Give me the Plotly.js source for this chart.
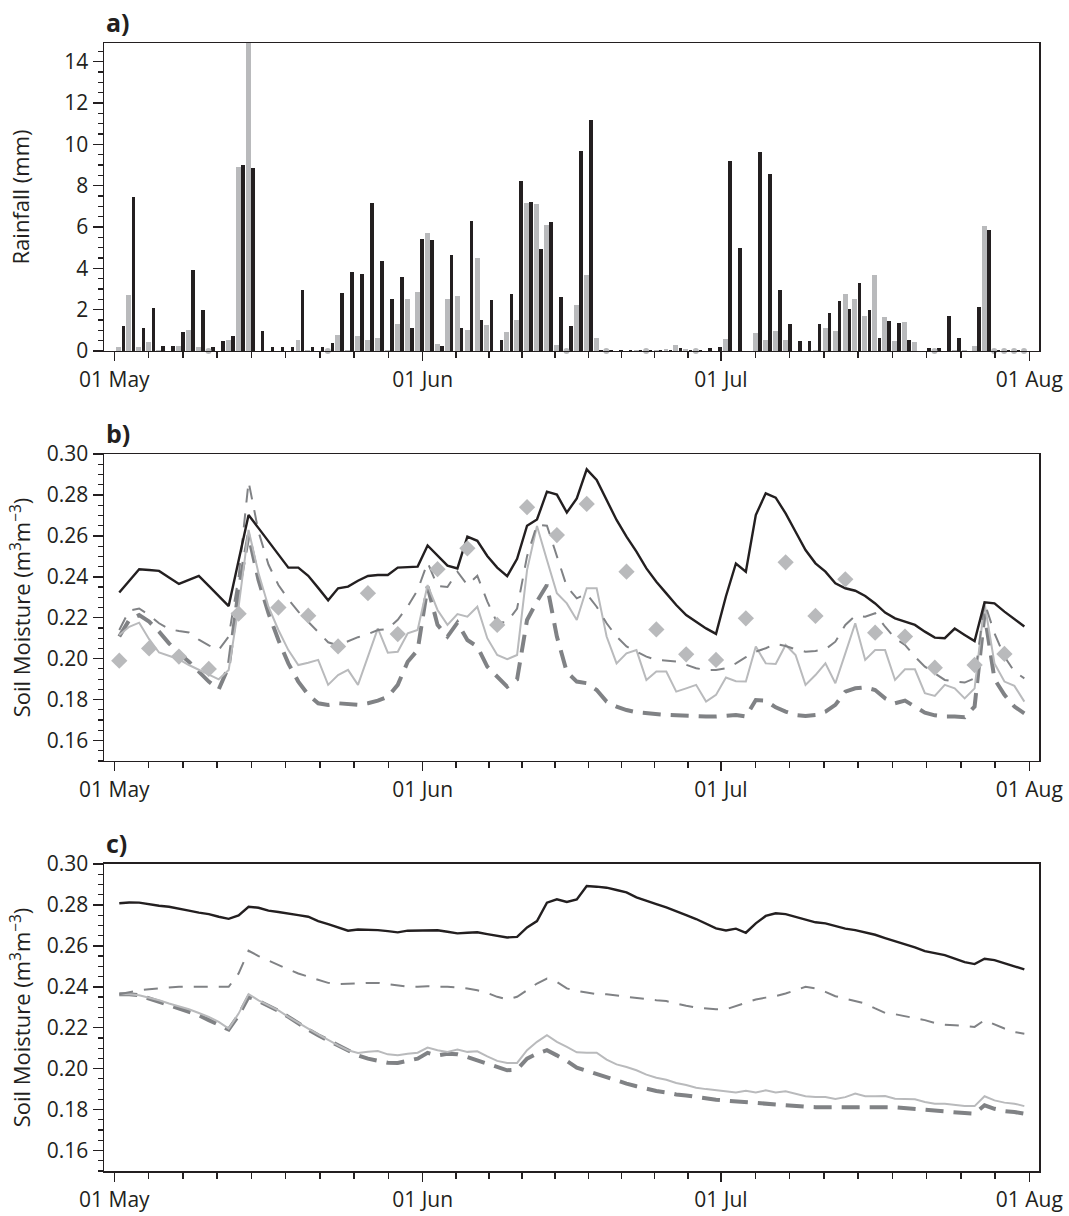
<!DOCTYPE html>
<html>
<head>
<meta charset="utf-8">
<script src="https://cdn.plot.ly/plotly-3.0.1.min.js"></script>
<style>
  html, body { margin: 0; padding: 0; background: #ffffff; }
  #chart { width: 1069px; height: 1216px; }
</style>
</head>
<body>
<div id="chart"></div>
<script>
// ---------------- DATA ----------------
const startYear = 2011;           // daily series start on 01 May
const nDays = 92;                 // 01 May ... 31 Jul

const monthTickDates  = ['2011-05-01', '2011-06-01', '2011-07-01', '2011-08-01'];
const monthTickLabels = ['01 May', '01 Jun', '01 Jul', '01 Aug'];

// a) daily rainfall (mm)
const rainGray = [0.2,2.7,0.2,0.45,0.05,0,0.25,1.0,0.2,0,
  0,0.55,8.9,15,0,0,0,0,0.55,0.05,
  0,0,0.76,0.05,0.71,0.55,0.65,0.05,1.3,2.49,
  2.85,5.73,0.36,2.49,2.66,1.0,4.48,1.25,0,0.92,
  1.52,7.15,7.13,6.1,0.28,0,2.22,3.67,0.63,0,
  0,0,0.05,0,0.05,0.08,0.31,0.1,0,0,
  0,0.57,0,0,0.89,0.52,0.96,0.52,0,0,
  0.05,1.1,0.97,2.75,2.5,1.68,3.67,1.62,0.49,1.39,
  0.42,0,0,0,0.05,0.05,0.23,6.05,0,0,
  0,0];
const rainBlack = [1.2,7.45,1.1,2.1,0.25,0.25,0.9,3.9,2.0,0.2,
  0.5,0.7,9.0,8.85,0.95,0.2,0.2,0.2,2.95,0.2,
  0.2,0.4,2.8,3.8,3.72,7.17,4.34,2.51,3.58,1.09,
  5.44,5.37,0.25,4.65,1.09,6.3,1.52,2.46,0.52,2.74,
  8.24,7.2,4.92,6.23,2.6,1.2,9.66,11.18,0.05,0.05,
  0.05,0.05,0.05,0.05,0.05,0.05,0.12,0.05,0.05,0.12,
  0.2,9.18,5.0,0,9.63,8.56,2.95,1.3,0.5,0.5,
  1.28,1.84,2.4,2.02,3.29,1.99,0.63,1.44,1.34,0.52,
  0,0.15,0.15,1.7,0.65,0,2.14,5.86,0.05,0.05,
  0.05,0];
const grayDotDays = [9,21,45,49,53,58,82,88,89,90,91];   // day index (0 = 01 May)

// b) soil moisture (m3 m-3)
const smB_black = [0.2323,0.238,0.2437,0.2433,0.2429,0.2397,0.2365,0.2385,0.2404,0.2356,
  0.2307,0.2257,0.248,0.2702,0.2638,0.2574,0.251,0.2445,0.2445,0.2405,
  0.2346,0.2285,0.2344,0.2352,0.2381,0.2404,0.2409,0.2409,0.2445,0.2446,
  0.245,0.2553,0.2502,0.2455,0.2441,0.2596,0.2576,0.2502,0.2445,0.2403,
  0.2488,0.265,0.268,0.2816,0.2802,0.2714,0.2783,0.2925,0.2873,0.2775,
  0.2678,0.2596,0.2523,0.2441,0.2376,0.2319,0.2262,0.2213,0.2181,0.2148,
  0.2121,0.2305,0.2465,0.2425,0.2702,0.2808,0.2787,0.271,0.262,0.2531,
  0.2466,0.2425,0.2368,0.2344,0.2332,0.2306,0.227,0.2225,0.2197,0.2181,
  0.2165,0.2132,0.2103,0.21,0.2147,0.2116,0.2086,0.2275,0.227,0.223,
  0.2192,0.2157];
const smB_dash = [0.214,0.2235,0.2245,0.2213,0.2173,0.2145,0.2135,0.2128,0.2093,0.2065,
  0.2043,0.2108,0.24,0.2865,0.262,0.246,0.236,0.229,0.223,0.218,
  0.213,0.208,0.2065,0.2085,0.2105,0.212,0.214,0.2145,0.219,0.2255,
  0.2335,0.247,0.2355,0.235,0.2425,0.236,0.2405,0.228,0.2175,0.218,
  0.2245,0.25,0.2655,0.265,0.25,0.2352,0.2295,0.2317,0.2254,0.2173,
  0.2108,0.206,0.2035,0.201,0.1994,0.1989,0.1986,0.197,0.1953,0.1945,
  0.1945,0.1953,0.1977,0.2007,0.2034,0.2051,0.2072,0.2062,0.2046,0.2034,
  0.2038,0.2046,0.2083,0.2165,0.2209,0.2205,0.2222,0.2156,0.21,0.2067,
  0.201,0.1961,0.1929,0.1896,0.1888,0.1883,0.1904,0.2274,0.2124,0.201,
  0.1937,0.1904];
const smB_light = [0.2116,0.2156,0.2176,0.2095,0.203,0.2013,0.1997,0.1969,0.1945,0.192,
  0.1899,0.1945,0.2254,0.2629,0.2417,0.2254,0.214,0.2042,0.1969,0.198,
  0.1994,0.1872,0.192,0.1945,0.1872,0.201,0.2148,0.2029,0.2034,0.2124,
  0.214,0.236,0.2238,0.2165,0.2218,0.2205,0.2254,0.21,0.2018,0.1997,
  0.2018,0.2433,0.2648,0.2482,0.232,0.227,0.2189,0.2344,0.2344,0.2108,
  0.1977,0.2026,0.2042,0.1896,0.1937,0.1937,0.1839,0.1855,0.1872,0.179,
  0.1823,0.1908,0.189,0.1888,0.2059,0.1977,0.1974,0.2067,0.2018,0.1872,
  0.192,0.1977,0.188,0.2026,0.2173,0.1994,0.2042,0.2042,0.1896,0.1948,
  0.1948,0.1831,0.1818,0.1872,0.1855,0.1806,0.1855,0.2271,0.1977,0.1888,
  0.1867,0.179];
const smB_thick = [0.2108,0.2189,0.2213,0.2181,0.2132,0.2075,0.2026,0.1985,0.1937,0.1888,
  0.185,0.1961,0.2336,0.2604,0.2384,0.2222,0.2091,0.1977,0.1888,0.1823,
  0.1782,0.1774,0.1782,0.1779,0.1774,0.1782,0.1795,0.1814,0.1872,0.1985,
  0.2042,0.2352,0.2165,0.2108,0.2176,0.2091,0.2059,0.1961,0.1912,0.1863,
  0.1899,0.2189,0.228,0.236,0.2108,0.1935,0.1888,0.188,0.1847,0.179,
  0.1766,0.1749,0.1738,0.1733,0.1728,0.1725,0.1723,0.172,0.1717,0.1717,
  0.1717,0.1722,0.1725,0.1717,0.1798,0.1795,0.1762,0.1741,0.1725,0.172,
  0.1725,0.1741,0.1774,0.1839,0.1855,0.186,0.1847,0.1806,0.1782,0.1795,
  0.1766,0.1736,0.1723,0.1717,0.1717,0.1714,0.1766,0.222,0.19,0.1823,
  0.1766,0.1733];
const obsDays = [0,3,6,9,12,16,19,22,25,28,32,35,38,41,44,47,51,54,57,60,63,67,70,73,76,79,82,86,89];
const obsVals = [0.199,0.205,0.201,0.195,0.222,0.225,0.221,0.206,0.232,0.212,
  0.2437,0.2539,0.2165,0.274,0.2604,0.2756,0.2425,0.2143,0.2021,0.1994,
  0.2197,0.2471,0.2209,0.2388,0.2127,0.2108,0.1956,0.1969,0.2023];

// c) soil moisture (m3 m-3)
const smC_black = [0.2808,0.2812,0.2811,0.2803,0.2796,0.2791,0.2783,0.2772,0.2762,0.2755,
  0.2742,0.2732,0.2749,0.2791,0.2786,0.2772,0.2765,0.2759,0.275,0.2742,
  0.2721,0.2706,0.269,0.2674,0.268,0.2679,0.2677,0.2672,0.2666,0.2674,
  0.2674,0.2676,0.2676,0.2669,0.2661,0.2664,0.2666,0.2657,0.2649,0.2641,
  0.2644,0.269,0.2721,0.2811,0.2827,0.2814,0.2827,0.2892,0.2889,0.2884,
  0.2873,0.2861,0.2837,0.2819,0.2804,0.2788,0.2767,0.275,0.2731,0.2707,
  0.2685,0.2675,0.2684,0.2664,0.271,0.2746,0.2759,0.2755,0.2742,0.2731,
  0.2715,0.271,0.2697,0.2684,0.2677,0.2667,0.2654,0.2638,0.2623,0.2607,
  0.2592,0.2574,0.2566,0.2555,0.2538,0.252,0.2511,0.2537,0.253,0.2514,
  0.2498,0.2485];
const smC_dash = [0.2364,0.2375,0.2383,0.2388,0.2393,0.2396,0.24,0.24,0.24,0.24,
  0.24,0.24,0.2465,0.2576,0.255,0.2527,0.2506,0.2485,0.2465,0.2449,
  0.2432,0.2419,0.2413,0.2413,0.2416,0.2419,0.2419,0.2413,0.2405,0.24,
  0.24,0.2403,0.24,0.24,0.2396,0.2392,0.2383,0.237,0.2351,0.2338,
  0.2351,0.2383,0.2416,0.244,0.2424,0.2392,0.238,0.2372,0.2364,0.2363,
  0.2357,0.2351,0.2343,0.2338,0.2334,0.233,0.2318,0.2307,0.2299,0.2294,
  0.229,0.229,0.2305,0.2321,0.2338,0.2347,0.2354,0.2367,0.2383,0.24,
  0.2392,0.2375,0.2354,0.2343,0.2331,0.2318,0.2294,0.2272,0.2266,0.2256,
  0.2245,0.2237,0.2223,0.2215,0.2212,0.2209,0.2204,0.2237,0.2215,0.2196,
  0.2179,0.2171];
const smC_light = [0.2364,0.2364,0.2359,0.2347,0.2334,0.2318,0.2305,0.229,0.2272,0.2253,
  0.2228,0.2196,0.2269,0.2364,0.2334,0.231,0.2285,0.2253,0.2223,0.2196,
  0.2168,0.2139,0.2114,0.209,0.2077,0.2082,0.2086,0.207,0.2065,0.2073,
  0.2078,0.2103,0.209,0.2082,0.2093,0.2082,0.2085,0.206,0.2038,0.2028,
  0.2028,0.209,0.2131,0.2163,0.2131,0.2106,0.208,0.2078,0.2078,0.2044,
  0.2021,0.2008,0.1992,0.1971,0.1956,0.1946,0.193,0.192,0.1907,0.19,
  0.1895,0.1888,0.1884,0.1892,0.1883,0.1894,0.1883,0.1889,0.1878,0.1865,
  0.1861,0.1861,0.1852,0.1861,0.1878,0.1865,0.1865,0.1866,0.1853,0.1853,
  0.185,0.1837,0.1829,0.1829,0.1824,0.1817,0.1817,0.1865,0.1845,0.1834,
  0.1829,0.1817];
const smC_thick = [0.2364,0.2364,0.2359,0.2343,0.2326,0.231,0.2294,0.2277,0.2261,0.2237,
  0.2212,0.2191,0.2261,0.2351,0.2331,0.2307,0.2282,0.2253,0.222,0.2191,
  0.2163,0.2139,0.2111,0.2086,0.2065,0.2049,0.2038,0.2029,0.2028,0.2038,
  0.2049,0.2077,0.2065,0.2073,0.207,0.2057,0.2041,0.2028,0.2008,0.1992,
  0.1995,0.2049,0.2073,0.209,0.2065,0.2038,0.2005,0.1989,0.1976,0.1956,
  0.194,0.1927,0.1914,0.1902,0.1891,0.1884,0.1874,0.1869,0.1861,0.1855,
  0.1848,0.1844,0.184,0.1836,0.1832,0.1827,0.1822,0.1819,0.1816,0.1814,
  0.1812,0.1812,0.1812,0.1812,0.1816,0.1816,0.1812,0.1812,0.1811,0.1807,
  0.1803,0.1796,0.1791,0.1788,0.1786,0.1783,0.178,0.1821,0.1804,0.1793,
  0.1788,0.178];

// ---------------- HELPERS ----------------
const DAY = 86400000;
const t0 = Date.UTC(startYear, 4, 1);
function fmt(ms) { return new Date(ms).toISOString().replace('T', ' ').slice(0, 19); }
function dayAt(i, frac) { return fmt(t0 + (i + frac) * DAY); }

const dayIdx = Array.from({length: nDays}, (_, i) => i);
const barX = dayIdx.map(i => dayAt(i, 0));
const lineX = dayIdx.map(i => dayAt(i, 0.5));

// minor ticks: each month split into 9 intervals
const monthStarts = [[4, 31], [5, 30], [6, 31]];
const minorTicks = [];
monthStarts.forEach(([m, len]) => {
  const s = Date.UTC(startYear, m, 1);
  for (let k = 1; k < 9; k++) minorTicks.push(fmt(s + k * len / 9 * DAY));
});

const INK = '#231f20';
const GREY_D = '#808285';
const GREY_L = '#b9babc';
const FONT = 'Open Sans, sans-serif';

function xAxis(anchor) {
  return {
    type: 'date', anchor: anchor,
    range: [fmt(t0 - 1.036 * DAY), fmt(Date.UTC(startYear, 7, 1) + 0.975 * DAY)],
    tickmode: 'array', tickvals: monthTickDates, ticktext: monthTickLabels,
    ticks: 'outside', ticklen: 9, tickwidth: 1.5, tickcolor: INK,
    minor: { tickmode: 'array', tickvals: minorTicks, ticks: 'outside', ticklen: 6, tickwidth: 1.5, tickcolor: INK },
    showline: true, linecolor: INK, linewidth: 1.5, mirror: true,
    showgrid: false, zeroline: false,
    tickfont: { family: FONT, size: 21, color: INK }
  };
}
function yAxis(anchor, domain, range, dtick, minorD, fmtStr, title, standoff) {
  return {
    anchor: anchor, domain: domain, range: range,
    tick0: 0, dtick: dtick, tickformat: fmtStr,
    ticks: 'outside', ticklen: 10, tickwidth: 1.5, tickcolor: INK,
    minor: { dtick: minorD, ticks: 'outside', ticklen: 5, tickwidth: 1.2, tickcolor: INK },
    showline: true, linecolor: INK, linewidth: 1.5, mirror: true,
    showgrid: false, zeroline: false,
    tickfont: { family: FONT, size: 21, color: INK },
    title: { text: title, font: { family: FONT, size: 22, color: INK }, standoff: standoff }
  };
}

// ---------------- TRACES ----------------
const traces = [];
traces.push({
  type: 'bar', x: barX, y: rainGray, xaxis: 'x', yaxis: 'y',
  offset: 0.22 * DAY, width: 0.5 * DAY,
  marker: { color: GREY_L, line: { width: 0 } }, name: 'rain grey'
});
traces.push({
  type: 'bar', x: barX, y: rainBlack, xaxis: 'x', yaxis: 'y',
  offset: 0.74 * DAY, width: 0.36 * DAY,
  marker: { color: INK, line: { width: 0 } }, name: 'rain black'
});
traces.push({
  type: 'scatter', mode: 'markers', xaxis: 'x', yaxis: 'y',
  x: grayDotDays.map(i => dayAt(i, 0.47)), y: grayDotDays.map(() => 0),
  marker: { color: GREY_L, size: 6 }, cliponaxis: false, name: 'no data'
});

function soilTraces(xa, ya, black, dash, light, thick) {
  return [
    { type: 'scatter', mode: 'lines', x: lineX, y: thick, xaxis: xa, yaxis: ya,
      line: { color: GREY_D, width: 4, dash: '18px,10px' } },
    { type: 'scatter', mode: 'lines', x: lineX, y: light, xaxis: xa, yaxis: ya,
      line: { color: GREY_L, width: 2 } },
    { type: 'scatter', mode: 'lines', x: lineX, y: dash, xaxis: xa, yaxis: ya,
      line: { color: GREY_D, width: 2, dash: '14px,11px' } },
    { type: 'scatter', mode: 'lines', x: lineX, y: black, xaxis: xa, yaxis: ya,
      line: { color: INK, width: 2.4 } }
  ];
}
traces.push(...soilTraces('x2', 'y2', smB_black, smB_dash, smB_light, smB_thick));
traces.push({
  type: 'scatter', mode: 'markers', xaxis: 'x2', yaxis: 'y2',
  x: obsDays.map(i => dayAt(i, 0.5)), y: obsVals,
  marker: { symbol: 'diamond', color: GREY_L, size: 12.5, line: { width: 0 } }, name: 'obs'
});
traces.push(...soilTraces('x3', 'y3', smC_black, smC_dash, smC_light, smC_thick));

// ---------------- LAYOUT ----------------
const smTitle = 'Soil Moisture (m<sup>3</sup>m<sup>−3</sup>)';
const layout = {
  width: 1069, height: 1216,
  margin: { l: 104, r: 30, t: 43, b: 45 },
  paper_bgcolor: '#ffffff', plot_bgcolor: '#ffffff',
  showlegend: false, barmode: 'overlay', bargap: 0,
  font: { family: FONT, color: INK },
  xaxis: xAxis('y'),
  xaxis2: xAxis('y2'),
  xaxis3: xAxis('y3'),
  yaxis: yAxis('x', [0.7270, 1], [0, 14.9], 2, 0.5, 'd', 'Rainfall (mm)', 28),
  yaxis2: yAxis('x2', [0.3635, 0.6356], [0.15, 0.30], 0.02, 0.005, '.2f', smTitle, 10),
  yaxis3: yAxis('x3', [0, 0.2722], [0.15, 0.30], 0.02, 0.005, '.2f', smTitle, 10),
  annotations: [
    { text: '<b>a)</b>', xref: 'paper', yref: 'paper', x: 0, y: 1, xanchor: 'left', yanchor: 'bottom', yshift: 2, showarrow: false, font: { family: FONT, size: 25, color: INK } },
    { text: '<b>b)</b>', xref: 'paper', yref: 'paper', x: 0, y: 0.6356, xanchor: 'left', yanchor: 'bottom', yshift: 2, showarrow: false, font: { family: FONT, size: 25, color: INK } },
    { text: '<b>c)</b>', xref: 'paper', yref: 'paper', x: 0, y: 0.2722, xanchor: 'left', yanchor: 'bottom', yshift: 2, showarrow: false, font: { family: FONT, size: 25, color: INK } }
  ]
};

Plotly.newPlot('chart', traces, layout, { displayModeBar: false, staticPlot: true });
</script>
</body>
</html>
